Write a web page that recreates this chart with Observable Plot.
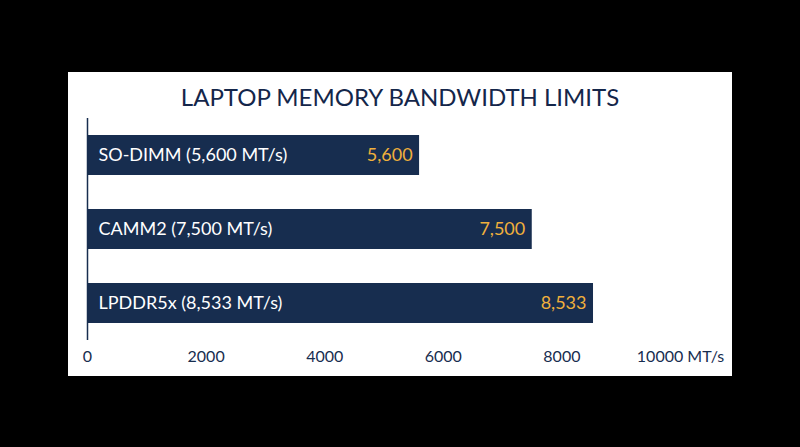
<!DOCTYPE html>
<html>
<head>
<meta charset="utf-8">
<script src="https://cdn.jsdelivr.net/npm/d3@7"></script>
<script src="https://cdn.jsdelivr.net/npm/@observablehq/plot@0.6"></script>
<style>
  html, body { margin: 0; padding: 0; background: #000; width: 800px; height: 447px; overflow: hidden; }
  #panel { position: absolute; left: 68px; top: 72px; width: 664px; height: 304px; background: #fff; }
  #title { position: absolute; left: 0; top: 10px; width: 664px; text-align: center;
           font-family: Lato, sans-serif; font-size: 24px; line-height: 30px; color: #14264a; font-weight: 400; }
  #chart { position: absolute; left: 0; top: 40px; }
</style>
</head>
<body>
<div id="panel">
  <div id="title">LAPTOP MEMORY BANDWIDTH LIMITS</div>
  <div id="chart"></div>
</div>
<script>
const categories = ["SO-DIMM (5,600 MT/s)", "CAMM2 (7,500 MT/s)", "LPDDR5x (8,533 MT/s)"];
const values = [5600, 7500, 8533];
const valueLabels = ["5,600", "7,500", "8,533"];
const tickValues = [0, 2000, 4000, 6000, 8000, 10000];
const tickLabels = ["0", "2000", "4000", "6000", "8000", "10000 MT/s"];

const navy = "#172d4f";
const orange = "#f0b03c";
const data = categories.map((c, i) => ({name: c, value: values[i], label: valueLabels[i]}));

const chart = Plot.plot({
  width: 664,
  height: 264,
  marginLeft: 19,
  marginRight: 52,
  marginTop: 6,
  marginBottom: 36,
  style: {background: "transparent", fontFamily: "Lato, sans-serif", fontSize: "16px", color: navy},
  x: {domain: [0, 10000], axis: null},
  y: {domain: categories, paddingInner: 0.46, paddingOuter: 0.23, axis: null},
  marks: [
    Plot.barX(data, {x: "value", y: "name", fill: navy}),
    Plot.ruleX([0], {stroke: navy, strokeWidth: 1.5}),
    Plot.text(data, {x: 0, y: "name", text: "name", textAnchor: "start", dx: 11, fill: "#ffffff", fontSize: 18}),
    Plot.text(data, {x: "value", y: "name", text: "label", textAnchor: "end", dx: -7, fill: orange, fontSize: 18}),
    Plot.axisX({ticks: tickValues, tickFormat: (d) => tickLabels[tickValues.indexOf(d)], tickSize: 0, tickPadding: 10, fill: navy, label: null, fontSize: 16})
  ]
});
document.getElementById("chart").appendChild(chart);
</script>
</body>
</html>
